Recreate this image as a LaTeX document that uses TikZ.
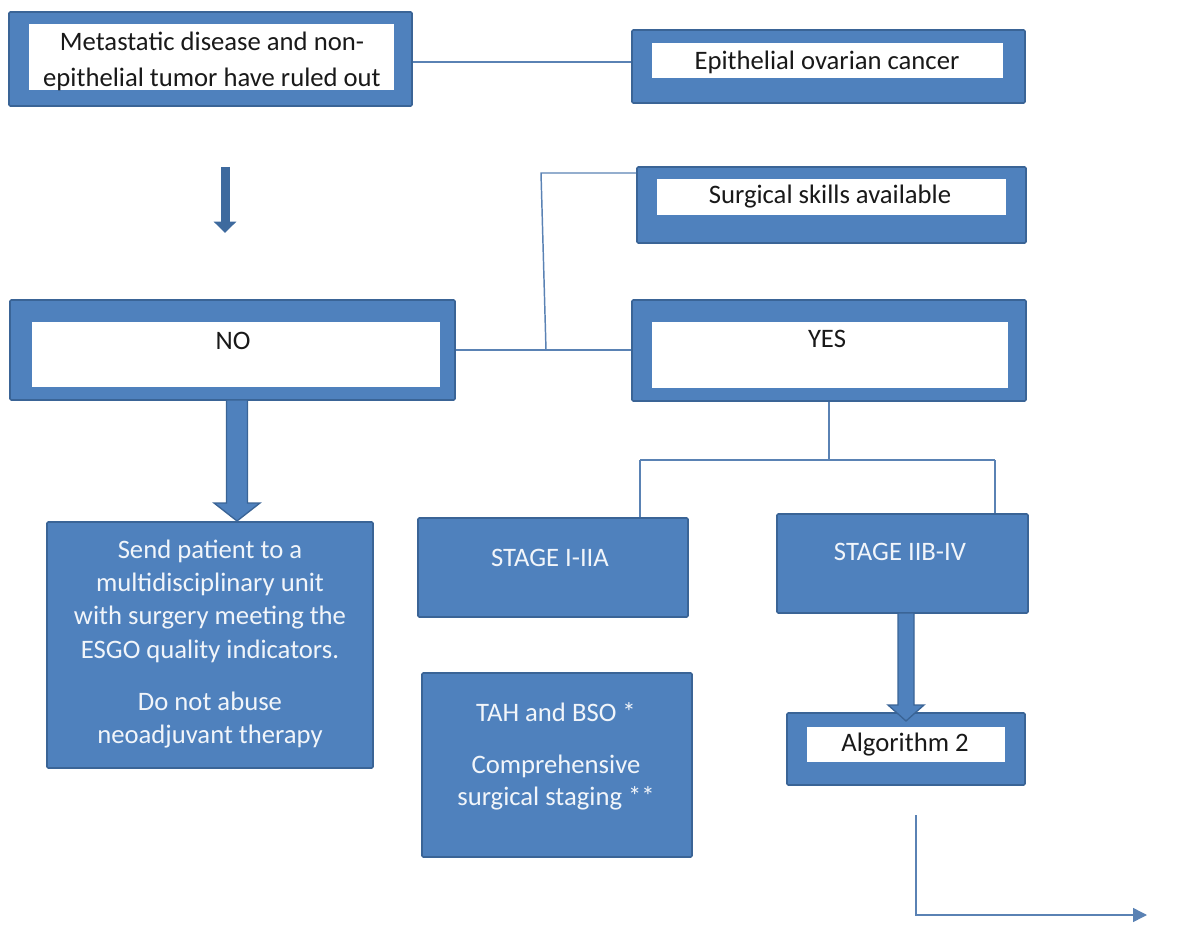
\documentclass[tikz,border=0pt]{standalone}
\usepackage{fontspec}
\setmainfont{Carlito}
\usetikzlibrary{calc,arrows.meta,fit}
\definecolor{boxblue}{HTML}{4F81BD}
\definecolor{boxdark}{HTML}{3A6496}
\definecolor{linecol}{HTML}{5A82B4}
\begin{document}
\begin{tikzpicture}[x=0.75pt,y=-0.75pt,
  outerbox/.style={draw=boxdark, fill=boxblue, line width=1.2pt, inner sep=0pt, rounded corners=1pt},
  innerbox/.style={fill=white, draw=none, inner sep=0pt},
  darktxt/.style={text=black!90, align=center, inner sep=0pt, font=\fontsize{20}{25}\selectfont},
  lighttxt/.style={text=white!92!boxblue, align=center, inner sep=0pt, font=\fontsize{20}{25}\selectfont},
  conn/.style={draw=linecol, line width=1.1pt},
  bigarrow/.style={fill=boxblue, draw=boxdark, line width=1pt, line join=miter}
]
\useasboundingbox (0,0) rectangle (1179,927);

% top row
\node[outerbox, fit={(9,12) (412,106)}] (A) {};
\node[innerbox, fit={(29,24) (394,90)}] (Ai) {};
\node[darktxt, font=\fontsize{20}{27}\selectfont] (At) at (212,61) {Metastatic disease and non-\\epithelial tumor have ruled out};

\node[outerbox, fit={(632,30) (1025,103)}] (B) {};
\node[innerbox, fit={(652,43) (1003,78)}] (Bi) {};
\node[darktxt] (Bt) at (827,62) {Epithelial ovarian cancer};

\draw[conn] ($(A.east)+(0,3)$) -- ($(A.east -| B.west)+(0,3)$);

% small down arrow
\coordinate (s1) at (225,167);
\coordinate (s2) at (225,233);
\draw[draw=boxdark!80!boxblue, line width=6.75pt, -{Triangle[width=16.5pt,length=8.5pt]}] (s1) -- (s2);

% surgical skills
\node[outerbox, fit={(637,167) (1026,243)}] (S) {};
\node[innerbox, fit={(657,179) (1006,215)}] (Si) {};
\node[darktxt] (St) at (830,197) {Surgical skills available};

% NO / YES
\node[outerbox, fit={(10,300) (455,400)}] (N) {};
\node[innerbox, fit={(32,322) (440,387)}] (Ni) {};
\node[darktxt] (Nt) at (233,341) {NO};

\node[outerbox, fit={(632,300) (1026,401)}] (Y) {};
\node[innerbox, fit={(652,322) (1008,388)}] (Yi) {};
\node[darktxt] (Yt) at (827,339) {YES};

\coordinate (J) at (546,350);
\coordinate (K) at (541,173);
\draw[conn] (N.east) -- (N.east -| Y.west);
\draw[conn] (J) -- (K) -- (K -| S.west);

% stages
\node[outerbox, fit={(418,518) (688,617)}] (S1) {};
\node[lighttxt] (S1t) at (550,558) {STAGE I-IIA};
\node[outerbox, fit={(777,514) (1028,613)}] (S2) {};
\node[lighttxt] (S2t) at (900,552) {STAGE IIB-IV};

\coordinate (Yb) at (829,460);
\coordinate (L1) at (640,460);
\coordinate (L2) at (995,460);
\draw[conn] (Y.south) -- (Yb);
\draw[conn] (L1) -- (L2);
\draw[conn] (L1) -- (L1 |- S1.north);
\draw[conn] (L2) -- (L2 |- S2.north);

% Send patient
\node[outerbox, fit={(47,522) (373,768)}] (P) {};
\node[lighttxt] (Pt) at (210,644) {Send patient to a\\multidisciplinary unit\\with surgery meeting the\\ESGO quality indicators.\\[14pt]Do not abuse\\neoadjuvant therapy};

% TAH
\node[outerbox, fit={(422,673) (692,857)}] (T) {};
\node[lighttxt, font=\fontsize{20}{24}\selectfont] (Tt) at (556,756) {TAH and BSO *\\[15pt]Comprehensive\\surgical staging **};

% Algorithm 2
\node[outerbox, fit={(787,713) (1025,785)}] (G) {};
\node[innerbox, fit={(807,727) (1005,762)}] (Gi) {};
\node[darktxt] (Gt) at (905,745) {Algorithm 2};

% big arrows
\coordinate (Pn) at (237,521);
\coordinate (Nb) at (237,400);
\path[bigarrow] ($(Nb)+(-10.5,0)$) -- ($(Pn)+(-10.5,-18)$) -- ($(Pn)+(-23,-18)$) -- (Pn) -- ($(Pn)+(23,-18)$) -- ($(Pn)+(10.5,-18)$) -- ($(Nb)+(10.5,0)$) -- cycle;

\coordinate (Gn) at (906,721);
\coordinate (S2b) at (906,613);
\path[bigarrow] ($(S2b)+(-8,0)$) -- ($(Gn)+(-8,-16)$) -- ($(Gn)+(-18,-16)$) -- (Gn) -- ($(Gn)+(18,-16)$) -- ($(Gn)+(8,-16)$) -- ($(S2b)+(8,0)$) -- cycle;

% bottom connector
\coordinate (E1) at (916,815);
\coordinate (E2) at (916,915);
\coordinate (E3) at (1147,915);
\draw[conn, -{Triangle[width=10.5pt,length=10.5pt]}] (E1) -- (E2) -- (E3);
\end{tikzpicture}
\end{document}
